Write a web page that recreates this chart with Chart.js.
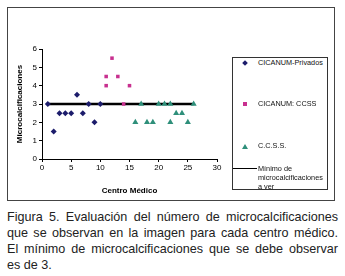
<!DOCTYPE html>
<html>
<head>
<meta charset="utf-8">
<script src="https://cdn.jsdelivr.net/npm/chart.js@4"></script>
<style>
  body { margin: 0; width: 345px; height: 276px; background: #fff; font-family: Arial, "Liberation Sans", sans-serif; position: relative; overflow: hidden; }
  #frame { position: absolute; left: 7px; top: 7px; width: 326px; height: 192px; border: 1px solid #444; }
  #chart { position: absolute; left: 0; top: 0; }
  #legend { position: absolute; left: 232px; top: 57px; width: 94px; height: 131px; border: 1px solid #333; background: #fff; font-size: 7.3px; color: #111; }
  .item { position: absolute; left: 25px; line-height: 9px; white-space: nowrap; }
  .sym { position: absolute; }
  #caption { position: absolute; left: 7px; top: 209px; width: 331px; font-size: 12.6px; line-height: 16px; color: #222; }
  #caption div { white-space: nowrap; text-align: justify; text-align-last: justify; }
  #caption div:last-child { text-align-last: left; }
</style>
</head>
<body>
<div id="frame"><canvas id="chart" width="326" height="192"></canvas></div>
<div id="legend"></div>
<div id="caption"><div>Figura 5. Evaluación del número de microcalcificaciones</div><div>que se observan en la imagen para cada centro médico.</div><div>El mínimo de microcalcificaciones que se debe observar</div><div>es de 3.</div></div>
<script>
// CICANUM-Privados
const privX = [1, 2, 3, 4, 5, 6, 7, 8, 9, 10];
const privY = [3, 1.5, 2.5, 2.5, 2.5, 3.5, 2.5, 3, 2, 3];
// CICANUM: CCSS
const cicX = [11, 11, 12, 13, 14, 15];
const cicY = [4.5, 4, 5.5, 4.5, 3, 4];
// C.C.S.S.
const ccssX = [16, 17, 18, 19, 20, 21, 22, 22, 23, 24, 25, 26];
const ccssY = [2, 3, 2, 2, 3, 3, 3, 2, 2.5, 2.5, 2, 3];
// Mínimo de microcalcificaciones a ver
const minX = [1, 26];
const minY = [3, 3];

const seriesNames = ['CICANUM-Privados', 'CICANUM: CCSS', 'C.C.S.S.', 'Mínimo de microcalcificaciones a ver'];
const xTicks = [0, 5, 10, 15, 20, 25, 30];
const yTicks = [0, 1, 2, 3, 4, 5, 6];

const pts = (xs, ys) => xs.map((x, i) => ({ x: x, y: ys[i] }));

new Chart(document.getElementById('chart'), {
    type: 'scatter',
    data: {
        datasets: [
            {
                label: seriesNames[3],
                data: pts(minX, minY),
                showLine: true,
                borderColor: '#000',
                borderWidth: 2.5,
                pointRadius: 0,
                order: 4
            },
            {
                label: seriesNames[0],
                data: pts(privX, privY),
                pointStyle: 'rectRot',
                pointRadius: 3,
                backgroundColor: '#1c1c6b',
                borderColor: '#1c1c6b',
                borderWidth: 0,
                order: 1
            },
            {
                label: seriesNames[1],
                data: pts(cicX, cicY),
                pointStyle: 'rect',
                pointRadius: 2.5,
                backgroundColor: '#c8308f',
                borderColor: '#c8308f',
                borderWidth: 0,
                order: 2
            },
            {
                label: seriesNames[2],
                data: pts(ccssX, ccssY),
                pointStyle: 'triangle',
                pointRadius: 3.5,
                backgroundColor: '#2e8f7a',
                borderColor: '#2e8f7a',
                borderWidth: 0,
                order: 3
            }
        ]
    },
    options: {
        responsive: false,
        animation: false,
        layout: { padding: { top: 41, right: 117, bottom: 0, left: 7 } },
        plugins: { legend: { display: false }, tooltip: { enabled: false } },
        scales: {
            x: {
                type: 'linear',
                min: 0, max: 30,
                afterBuildTicks: s => { s.ticks = xTicks.map(v => ({ value: v })); },
                afterFit: s => { s.height = 41; },
                border: { color: '#000', width: 1 },
                grid: { drawOnChartArea: false, drawTicks: true, tickLength: 3, color: '#000' },
                ticks: { color: '#000', font: { family: 'Arial', size: 8 }, padding: 1, maxRotation: 0 },
                title: { display: true, text: 'Centro Médico', color: '#000', font: { family: 'Arial', size: 8, weight: 'bold' }, padding: { top: 6 } }
            },
            y: {
                min: 0, max: 6,
                afterBuildTicks: s => { s.ticks = yTicks.map(v => ({ value: v })); },
                afterFit: s => { s.width = 27; },
                border: { color: '#000', width: 1 },
                grid: { drawOnChartArea: false, drawTicks: true, tickLength: 3, color: '#000' },
                ticks: { color: '#000', font: { family: 'Arial', size: 8 }, padding: 2 },
                title: { display: true, text: 'Microcalcificaciones', color: '#000', font: { family: 'Arial', size: 8, weight: 'bold' }, padding: 0 }
            }
        }
    }
});

// legend box drawn as html text
const legend = document.getElementById('legend');
const legendRows = [
    { top: 0, sym: '<span class="sym" style="left:10px;top:3px;width:4px;height:4px;background:#1c1c6b;transform:rotate(45deg)"></span>' },
    { top: 41, sym: '<span class="sym" style="left:10px;top:44px;width:4px;height:4px;background:#c8308f"></span>' },
    { top: 83, sym: '<span class="sym" style="left:9px;top:86px;width:0;height:0;border-left:3px solid transparent;border-right:3px solid transparent;border-bottom:5px solid #2e8f7a"></span>' },
    { top: 106, sym: '<span class="sym" style="left:0;top:110px;width:24px;height:1px;background:#000"></span>' }
];
legendRows.forEach((r, i) => {
    let text = seriesNames[i];
    if (i === 3) text = 'Mínimo de<br>microcalcificaciones<br>a ver';
    legend.innerHTML += r.sym + '<div class="item" style="top:' + r.top + 'px">' + text + '</div>';
});
</script>
</body>
</html>
